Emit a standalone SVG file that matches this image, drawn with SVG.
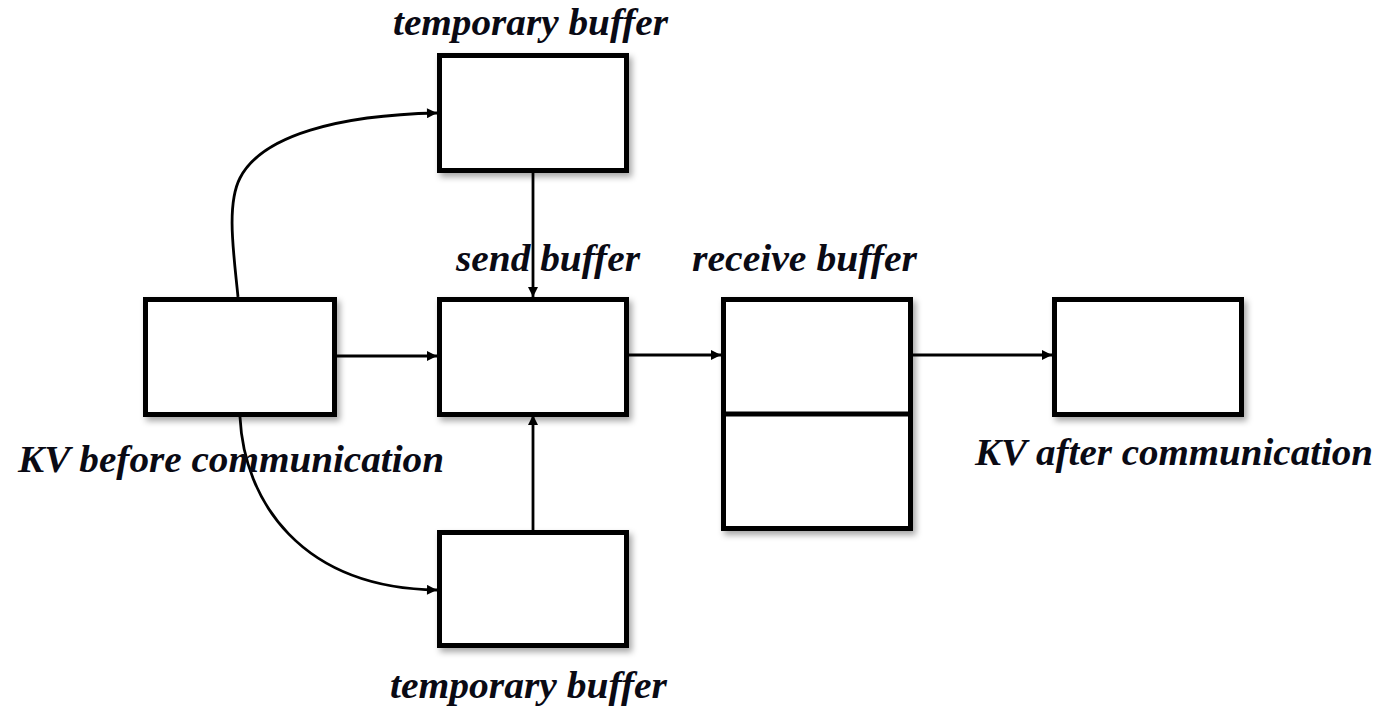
<svg xmlns="http://www.w3.org/2000/svg" width="1384" height="707" viewBox="0 0 1384 707">
  <defs>
    <filter id="shadow" x="-10%" y="-10%" width="130%" height="130%">
      <feDropShadow dx="3" dy="4" stdDeviation="3" flood-color="#000" flood-opacity="0.35"/>
    </filter>
    <marker id="arrow" viewBox="0 0 10 10" refX="10" refY="5" markerWidth="13" markerHeight="10" markerUnits="userSpaceOnUse" orient="auto">
      <path d="M0,0 L10,5 L0,10 Z" fill="#000"/>
    </marker>
  </defs>
  <style>
    .box { fill: #fff; stroke: #000; stroke-width: 5; filter: url(#shadow); }
    .link { fill: none; stroke: #000; stroke-width: 2.8; marker-end: url(#arrow); }
    .label { font-family: "Liberation Serif", "Times New Roman", serif; font-weight: bold; font-style: italic; font-size: 37px; fill: #0a0a14; text-anchor: middle; }
  </style>
  <rect width="1384" height="707" fill="#fff"/>

  <!-- connectors -->
  <g id="connectors">
    <path class="link" d="M238,297 C234,255 226,205 240,178 C262,135 340,115 437,113"/>
    <path class="link" d="M240,417 C244,500 300,588 437,590"/>
    <path class="link" d="M337,356 L437,356"/>
    <path class="link" d="M533,173 L533,297"/>
    <path class="link" d="M533,530 L533,415"/>
    <path class="link" d="M629,355 L721,355"/>
    <path class="link" d="M913,355 L1052,355"/>
  </g>

  <!-- nodes -->
  <g id="kv-before">
    <rect class="box" x="145.5" y="299.5" width="189" height="115"/>
    <text class="label" x="231" y="472" textLength="426" lengthAdjust="spacingAndGlyphs">KV before communication</text>
  </g>
  <g id="temp-buffer-top">
    <rect class="box" x="439.5" y="55.5" width="187" height="115"/>
    <text class="label" x="530.5" y="35" textLength="275" lengthAdjust="spacingAndGlyphs">temporary buffer</text>
  </g>
  <g id="send-buffer">
    <rect class="box" x="439.5" y="299.5" width="187" height="115"/>
    <text class="label" x="548" y="271" textLength="184" lengthAdjust="spacingAndGlyphs">send buffer</text>
  </g>
  <g id="temp-buffer-bottom">
    <rect class="box" x="439.5" y="532.5" width="187" height="113"/>
    <text class="label" x="528.5" y="698" textLength="277" lengthAdjust="spacingAndGlyphs">temporary buffer</text>
  </g>
  <g id="receive-buffer">
    <rect class="box" x="723.5" y="299.5" width="187" height="229"/>
    <line x1="723.5" y1="414" x2="910.5" y2="414" stroke="#000" stroke-width="5"/>
    <text class="label" x="804.5" y="271" textLength="225" lengthAdjust="spacingAndGlyphs">receive buffer</text>
  </g>
  <g id="kv-after">
    <rect class="box" x="1054.5" y="299.5" width="187" height="115"/>
    <text class="label" x="1174" y="465" textLength="398" lengthAdjust="spacingAndGlyphs">KV after communication</text>
  </g>
</svg>
